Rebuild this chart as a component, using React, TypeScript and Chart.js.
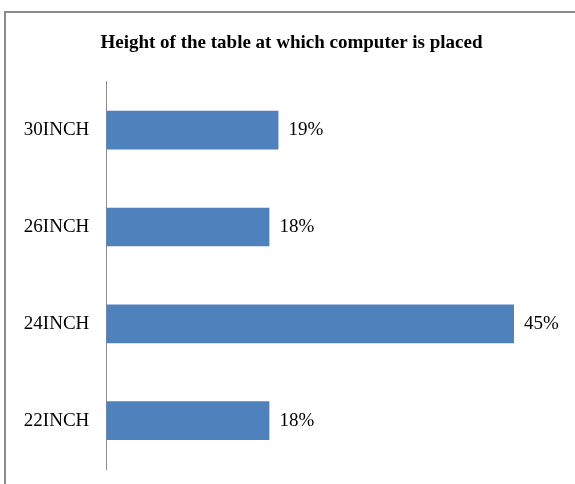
import React, { useEffect, useRef } from "react";
import { Chart, registerables } from "chart.js";

Chart.register(...registerables);

const TITLE = "Height of the table at which computer is placed";
const categories = ["30INCH", "26INCH", "24INCH", "22INCH"];
const values = [19, 18, 45, 18];
const BAR_COLOR = "#4F81BD";
const FONT = "'Liberation Serif', 'Times New Roman', serif";

const valueLabels = {
  id: "valueLabels",
  afterDatasetsDraw(chart: any) {
    const ctx = chart.ctx;
    const meta = chart.getDatasetMeta(0);
    ctx.save();
    ctx.font = `19px ${FONT}`;
    ctx.fillStyle = "#000";
    ctx.textAlign = "left";
    ctx.textBaseline = "middle";
    meta.data.forEach((bar: any, i: number) => {
      const v = chart.data.datasets[0].data[i];
      ctx.fillText(`${v}%`, bar.x + 10, bar.y);
    });
    ctx.restore();
  },
};

export default function App() {
  const ref = useRef<HTMLCanvasElement | null>(null);
  useEffect(() => {
    if (!ref.current) return;
    const chart = new Chart(ref.current, {
      type: "bar",
      data: {
        labels: categories,
        datasets: [
          {
            data: values,
            backgroundColor: BAR_COLOR,
            borderColor: BAR_COLOR,
            borderWidth: 0,
            categoryPercentage: 1,
            barPercentage: 0.4,
          },
        ],
      },
      options: {
        indexAxis: "y",
        responsive: false,
        animation: false,
        layout: { padding: { left: 23.7, right: 15.7, top: 0, bottom: 15 } },
        plugins: {
          legend: { display: false },
          tooltip: { enabled: false },
          title: {
            display: true,
            text: TITLE,
            color: "#000",
            font: { family: FONT, size: 19, weight: "bold" },
            padding: { top: 32, bottom: 27 },
          },
        },
        scales: {
          x: {
            display: false,
            min: 0,
            max: 50,
          },
          y: {
            grid: { display: false, drawTicks: false },
            border: { display: true, color: "#8c8c8c", width: 1 },
            ticks: {
              color: "#000",
              font: { family: FONT, size: 19 },
              padding: 17,
            },
            afterFit(scale: any) {
              scale.width = 82.6;
              scale.paddingTop = 0;
              scale.paddingBottom = 0;
            },
          },
        },
      },
      plugins: [valueLabels],
    });
    return () => chart.destroy();
  }, []);

  return (
    <div
      style={{
        position: "fixed",
        left: 0,
        top: 0,
        width: 575,
        height: 484,
        overflow: "hidden",
        background: "#fff",
      }}
    >
      <div
        style={{
          position: "absolute",
          left: 4,
          top: 11,
          width: 640,
          height: 540,
          border: "2px solid #8c8c8c",
          boxSizing: "border-box",
        }}
      />
      <canvas
        ref={ref}
        width={575}
        height={484}
        style={{ position: "absolute", left: 0, top: 0, display: "block" }}
      />
    </div>
  );
}
